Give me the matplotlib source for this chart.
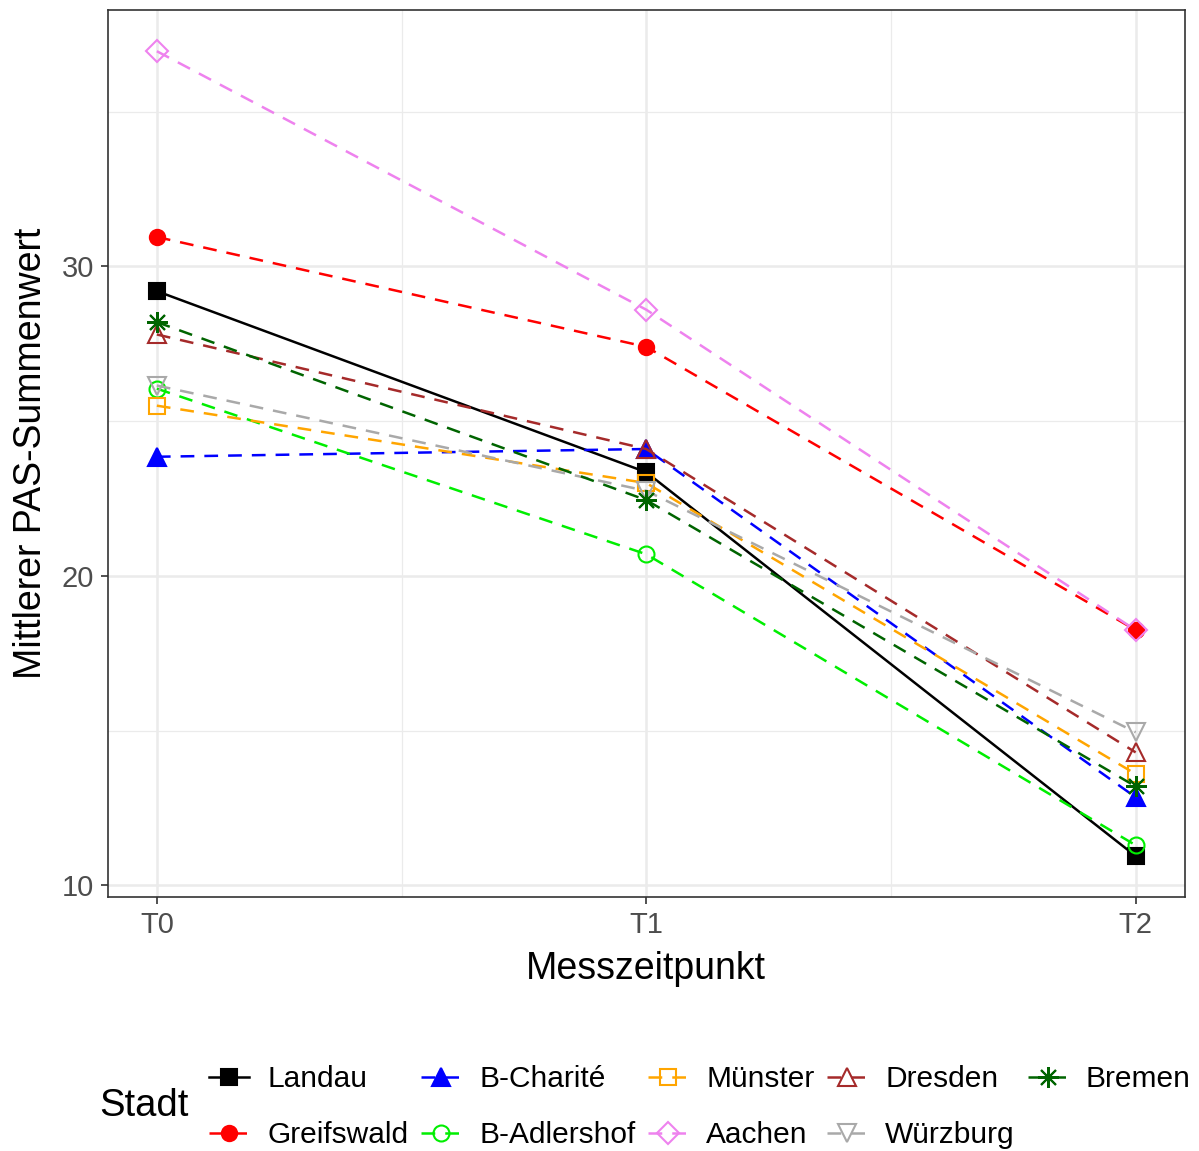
import numpy as np
import matplotlib.pyplot as plt

plt.rcParams['font.family'] = ['Liberation Sans', 'DejaVu Sans']

# === DATEN ===
zeitpunkte = ["T0", "T1", "T2"]
staedte = ["Landau", "Greifswald", "B-Charité", "B-Adlershof", "Münster",
           "Aachen", "Dresden", "Würzburg", "Bremen"]

landau      = [29.2, 23.35, 10.95]
greifswald  = [30.95, 27.4, 18.25]
b_charite   = [23.85, 24.1, 12.85]
b_adlershof = [26.05, 20.7, 11.3]
muenster    = [25.5, 23.0, 13.6]
aachen      = [36.95, 28.6, 18.25]
dresden     = [27.8, 24.1, 14.3]
wuerzburg   = [26.15, 22.75, 14.95]
bremen      = [28.2, 22.45, 13.2]

werte = [landau, greifswald, b_charite, b_adlershof, muenster,
         aachen, dresden, wuerzburg, bremen]

farben = ["black", "red", "blue", "#00EE00", "orange",
          "violet", "brown", "darkgray", "darkgreen"]
marker = ["s", "o", "^", "o", "s", "D", "^", "v", (8, 2, 0)]
gefuellt = [True, True, True, False, False, False, False, False, True]
msize = [11, 11, 13, 11.5, 11, 11, 13, 13, 15]

# === PLOT ===
fig = plt.figure(figsize=(11.99, 11.51), dpi=100)
ax = fig.add_axes([0.090, 0.221, 0.898, 0.770])

x = np.arange(len(zeitpunkte))
handles = []
for i, name in enumerate(staedte):
    ls = '-' if name == "Landau" else '--'
    fc = farben[i] if gefuellt[i] else 'none'
    line, = ax.plot(x, werte[i], color=farben[i], linestyle=ls, linewidth=1.8,
                    marker=marker[i], markersize=msize[i], markerfacecolor=fc,
                    markeredgecolor=farben[i], markeredgewidth=1.5, zorder=3)
    if ls == '--':
        line.set_dashes((5.5, 4))
    handles.append(line)

ax.set_xlim(-0.1, 2.1)
ax.set_ylim(9.64, 38.27)
ax.set_xticks(x)
ax.set_xticklabels(zeitpunkte)
ax.set_yticks([10, 20, 30])
ax.set_xticks([0.5, 1.5], minor=True)
ax.set_yticks([15, 25, 35], minor=True)
ax.grid(which='major', color='#EBEBEB', linewidth=1.8, zorder=0)
ax.grid(which='minor', color='#EBEBEB', linewidth=0.9, zorder=0)
ax.set_axisbelow(True)
for s in ax.spines.values():
    s.set_color('#333333')
    s.set_linewidth(1.2)
ax.tick_params(which='major', length=5, width=1.2, color='#333333',
               labelsize=21, labelcolor='#4D4D4D', pad=5)
ax.tick_params(which='minor', length=0)

ax.set_xlabel("Messzeitpunkt", fontsize=27, labelpad=9)
ax.set_ylabel("Mittlerer PAS-Summenwert", fontsize=27, labelpad=9)

leg = fig.legend(handles=handles, labels=staedte, ncol=5, frameon=False,
                 loc='center left', bbox_to_anchor=(0.162, 0.038),
                 fontsize=21.5, handlelength=1.35, handletextpad=0.6,
                 columnspacing=0.42, labelspacing=0.95, borderpad=0)
fig.text(0.083, 0.039, "Stadt", fontsize=27.5, va='center', ha='left')

fig.savefig("out.png", dpi=100)
